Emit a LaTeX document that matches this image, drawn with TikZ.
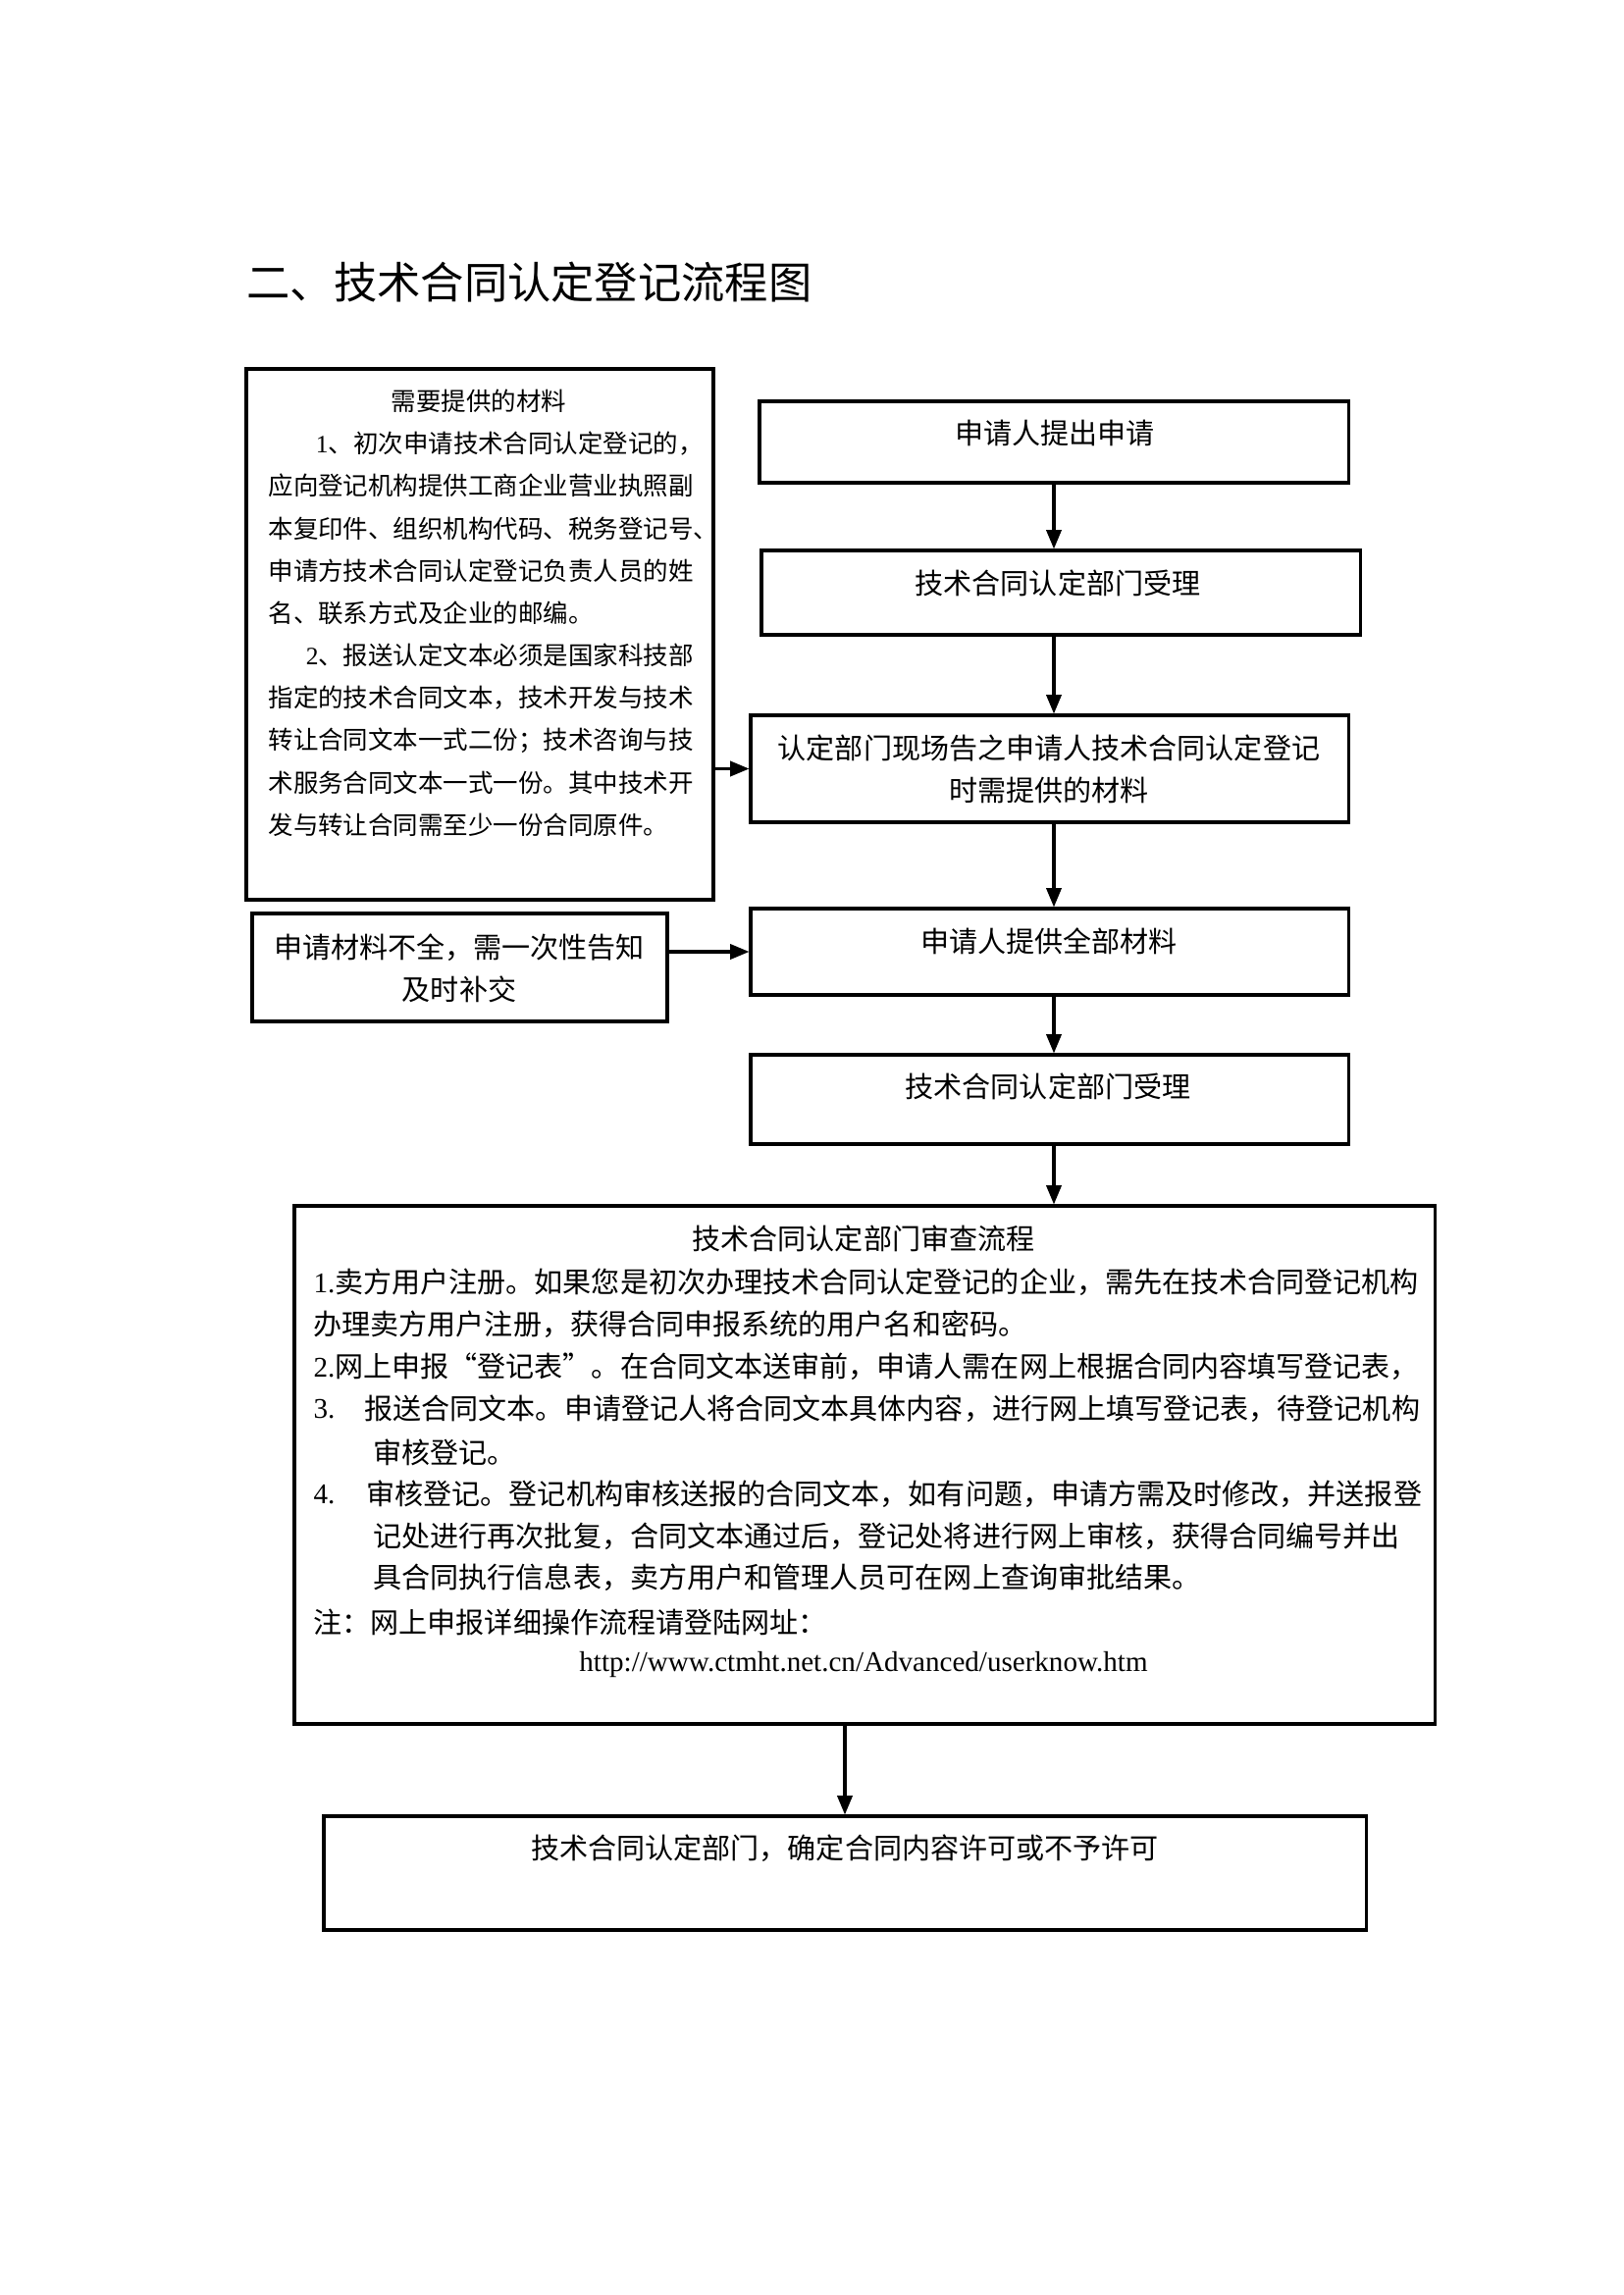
\documentclass[tikz,border=0pt]{standalone}
\usepackage{fontspec}
\setmainfont{Noto Sans CJK SC}
\newfontfamily\lat{Liberation Serif}
\usetikzlibrary{arrows.meta,fit}
\begin{document}
\begin{tikzpicture}[x=0.0126965cm,y=-0.0126978cm,
  box/.style={draw, line width=1.1pt, inner sep=0pt},
  arr/.style={line width=1.1pt, -{Triangle[length=7pt,width=5.5pt]}},
  txt/.style={inner sep=0pt, font=\fontsize{10.5pt}{12pt}\selectfont},
  stxt/.style={inner sep=0pt, font=\fontsize{9.2pt}{11pt}\selectfont},
  ttl/.style={inner sep=0pt, font=\fontsize{16pt}{18pt}\selectfont}]
\fill[white] (0,0) rectangle (1654,2339);
\useasboundingbox (0,0) rectangle (1654,2339);

\node[ttl, anchor=west] (title) at (251,288) {二、技术合同认定登记流程图};

% left box: materials
\node[box, fit={(251,376) (727,917)}] (M) {};
\node[stxt] (Mt) at (488,409) {需要提供的材料};
\node[stxt, anchor=west] (M1) at (273,452) {\hspace*{1.9em}{\lat 1}、初次申请技术合同认定登记的，};
\node[stxt, anchor=west] (M2) at (273,495.2) {应向登记机构提供工商企业营业执照副};
\node[stxt, anchor=west] (M3) at (273,538.4) {本复印件、组织机构代码、税务登记号、};
\node[stxt, anchor=west] (M4) at (273,581.6) {申请方技术合同认定登记负责人员的姓};
\node[stxt, anchor=west] (M5) at (273,624.8) {名、联系方式及企业的邮编。};
\node[stxt, anchor=west] (M6) at (273,668) {\hspace*{1.5em}{\lat 2}、报送认定文本必须是国家科技部};
\node[stxt, anchor=west] (M7) at (273,711.2) {指定的技术合同文本，技术开发与技术};
\node[stxt, anchor=west] (M8) at (273,754.4) {转让合同文本一式二份；技术咨询与技};
\node[stxt, anchor=west] (M9) at (273,797.6) {术服务合同文本一式一份。其中技术开};
\node[stxt, anchor=west] (M10) at (273,840.8) {发与转让合同需至少一份合同原件。};

% left box 2
\node[box, fit={(257,931) (680,1041)}] (N) {};
\node[txt] (N1) at (468,966) {申请材料不全，需一次性告知};
\node[txt] (N2) at (468,1008) {及时补交};

% right column
\node[box, fit={(774,409) (1374,492)}] (A) {};
\node[txt] (At) at (1075,441) {申请人提出申请};

\node[box, fit={(776,561) (1386,647)}] (B) {};
\node[txt] (Bt) at (1078,594) {技术合同认定部门受理};

\node[box, fit={(765,729) (1374,838)}] (C) {};
\node[txt] (C1) at (1069,762) {认定部门现场告之申请人技术合同认定登记};
\node[txt] (C2) at (1069,805) {时需提供的材料};

\node[box, fit={(765,926) (1374,1014)}] (D) {};
\node[txt] (Dt) at (1069,959) {申请人提供全部材料};

\node[box, fit={(765,1075) (1374,1166)}] (E) {};
\node[txt] (Et) at (1068,1107) {技术合同认定部门受理};

% big review box
\node[box, fit={(300,1229) (1462,1757)}] (F) {};
\node[txt] (Ft) at (880,1262) {技术合同认定部门审查流程};
\node[txt, anchor=west] (F1) at (319,1307) {{\lat 1.}卖方用户注册。如果您是初次办理技术合同认定登记的企业，需先在技术合同登记机构};
\node[txt, anchor=west] (F2) at (319,1350) {办理卖方用户注册，获得合同申报系统的用户名和密码。};
\node[txt, anchor=west] (F3) at (319,1393) {{\lat 2.}网上申报“登记表”。在合同文本送审前，申请人需在网上根据合同内容填写登记表，};
\node[txt, anchor=west] (F4n) at (319,1436) {\lat 3.};
\node[txt, anchor=west] (F4) at (371,1436) {报送合同文本。申请登记人将合同文本具体内容，进行网上填写登记表，待登记机构};
\node[txt, anchor=west] (F5) at (380,1480) {审核登记。};
\node[txt, anchor=west] (F6n) at (319,1523) {\lat 4.};
\node[txt, anchor=west] (F6) at (373,1523) {审核登记。登记机构审核送报的合同文本，如有问题，申请方需及时修改，并送报登};
\node[txt, anchor=west] (F7) at (380,1566) {记处进行再次批复，合同文本通过后，登记处将进行网上审核，获得合同编号并出};
\node[txt, anchor=west] (F8) at (380,1608) {具合同执行信息表，卖方用户和管理人员可在网上查询审批结果。};
\node[txt, anchor=west] (F9) at (319,1653) {注：网上申报详细操作流程请登陆网址：};
\node[txt] (F10) at (880,1696) {\lat http://www.ctmht.net.cn/Advanced/userknow.htm};

% final box
\node[box, fit={(330,1851) (1392,1967)}] (G) {};
\node[txt] (Gt) at (861,1884) {技术合同认定部门，确定合同内容许可或不予许可};

% connectors
\draw[arr] (A.south) -- (A.south |- B.north);
\draw[arr] (A.south |- B.south) -- (A.south |- C.north);
\draw[arr] (A.south |- C.south) -- (A.south |- D.north);
\draw[arr] (A.south |- D.south) -- (A.south |- E.north);
\draw[arr] (A.south |- E.south) -- (A.south |- F.north);
\draw[arr] (G.north |- F.south) -- (G.north);
\draw[arr] (M.east |- C.west) -- (C.west);
\draw[arr] (N.east |- D.west) -- (D.west);
\end{tikzpicture}
\end{document}
